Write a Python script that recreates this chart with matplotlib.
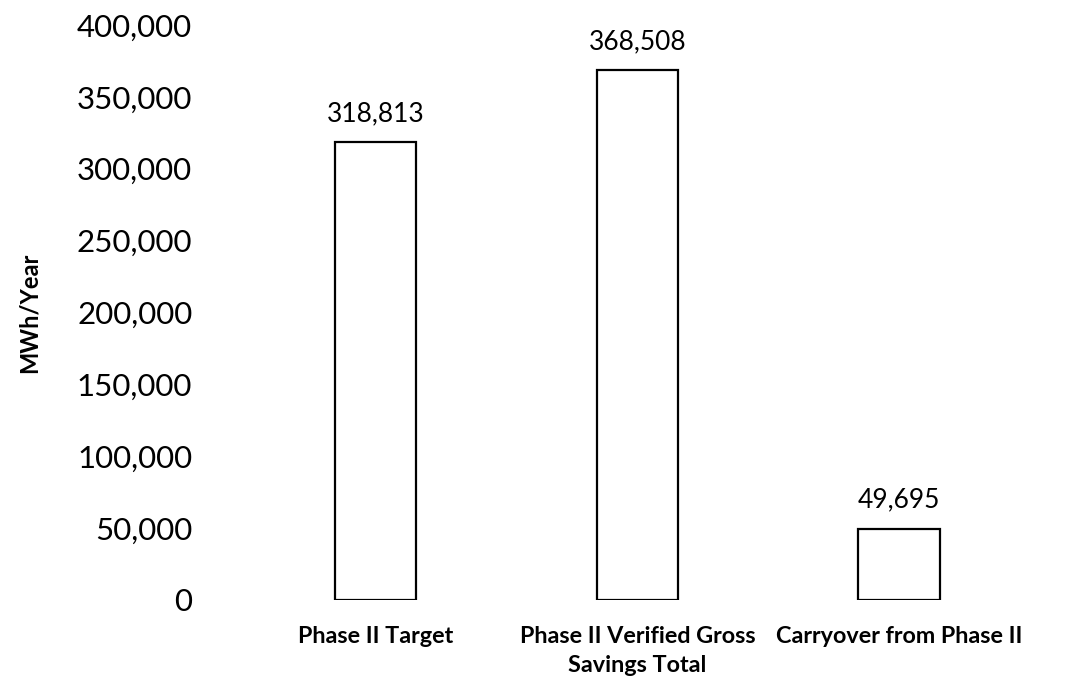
import matplotlib
matplotlib.use("Agg")
import matplotlib.pyplot as plt

# Chart data
categories = ["Phase II Target", "Phase II Verified Gross\nSavings Total", "Carryover from Phase II"]
savings = [318813, 368508, 49695]
y_ticks = [0, 50000, 100000, 150000, 200000, 250000, 300000, 350000, 400000]

plt.rcParams['font.family'] = ['Lato', 'DejaVu Sans']

fig = plt.figure(figsize=(10.9, 6.86), dpi=100)
ax = fig.add_axes([0.2248, 0.1254, 0.72, 0.8382])

x = range(len(categories))
bars = ax.bar(x, savings, width=0.31, color="white", edgecolor="black", linewidth=1.6)

# value labels above each bar
for xi, val in zip(x, savings):
    ax.text(xi, val + 11000, f"{val:,}", ha="center", va="bottom", fontsize=19)

ax.set_xlim(-0.5, 2.5)
ax.set_ylim(0, 400000)
ax.set_yticks(y_ticks)
ax.set_yticklabels([f"{t:,}" for t in y_ticks], fontsize=22.5)
ax.set_xticks(list(x))
ax.set_xticklabels(categories, fontsize=16.8, fontweight="bold", linespacing=1.45)
ax.tick_params(axis="y", length=0, pad=38)
ax.tick_params(axis="x", length=0, pad=19)

for s in ax.spines.values():
    s.set_visible(False)

ax.set_ylabel("MWh/Year", fontsize=17, fontweight="bold")
ax.yaxis.set_label_coords(-0.26, 0.5)

fig.savefig("out.png", dpi=100)
